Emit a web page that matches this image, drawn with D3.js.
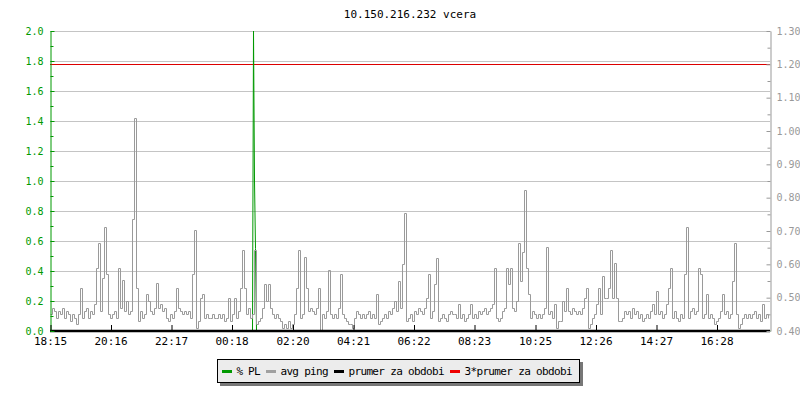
<!DOCTYPE html>
<html>
<head>
<meta charset="utf-8">
<script src="https://cdn.jsdelivr.net/npm/d3@7"></script>
<style>
  body { margin: 0; background: #fff; }
  svg { display: block; font-family: "DejaVu Sans Mono", monospace; }
</style>
</head>
<body>
<svg id="chart" width="800" height="400"></svg>
<script>
// avg ping, one value every 4 minutes starting 18:15 (right axis)
var avgPing = [
  0.45,0.47,0.46,0.44,0.46,0.45,0.47,0.44,0.46,0.45,0.43,0.45,0.44,0.42,0.45,0.53,0.44,0.46,0.47,0.44,0.46,0.45,0.48,0.59,0.665,0.46,0.56,0.713,0.57,0.45,
  0.44,0.45,0.46,0.44,0.59,0.47,0.553,0.46,0.49,0.45,0.46,0.736,1.04,0.53,0.43,0.46,0.44,0.45,0.51,0.49,0.46,0.45,0.47,0.545,0.47,0.48,0.46,0.47,0.44,0.43,
  0.45,0.44,0.46,0.53,0.47,0.46,0.45,0.46,0.45,0.46,0.44,0.57,0.703,0.41,0.43,0.50,0.51,0.44,0.45,0.44,0.44,0.45,0.44,0.44,0.45,0.44,0.45,0.43,0.44,0.50,
  0.43,0.45,0.50,0.44,0.46,0.53,0.643,0.53,0.45,0.47,0.44,0.45,0.643,0.42,0.43,0.44,0.47,0.54,0.49,0.54,0.47,0.45,0.44,0.45,0.44,0.43,0.41,0.42,0.41,0.43,
  0.41,0.42,0.45,0.53,0.643,0.44,0.45,0.623,0.53,0.46,0.47,0.46,0.45,0.47,0.53,0.40,0.45,0.44,0.46,0.583,0.45,0.44,0.45,0.44,0.47,0.57,0.45,0.44,0.43,0.42,
  0.42,0.41,0.44,0.46,0.45,0.44,0.45,0.44,0.45,0.46,0.44,0.45,0.44,0.51,0.42,0.43,0.44,0.45,0.44,0.46,0.45,0.47,0.49,0.46,0.55,0.47,0.60,0.753,0.43,0.44,
  0.45,0.43,0.46,0.45,0.47,0.46,0.45,0.47,0.50,0.57,0.44,0.46,0.54,0.62,0.43,0.44,0.45,0.44,0.43,0.45,0.46,0.45,0.45,0.44,0.48,0.44,0.45,0.43,0.44,0.45,
  0.48,0.44,0.45,0.44,0.46,0.45,0.46,0.47,0.45,0.46,0.47,0.48,0.59,0.44,0.43,0.44,0.46,0.47,0.59,0.54,0.59,0.47,0.46,0.49,0.663,0.55,0.638,0.823,0.59,0.51,
  0.44,0.46,0.45,0.44,0.45,0.44,0.45,0.47,0.653,0.45,0.46,0.44,0.48,0.41,0.43,0.43,0.49,0.46,0.53,0.46,0.45,0.47,0.46,0.45,0.46,0.45,0.47,0.50,0.53,0.41,
  0.42,0.44,0.45,0.48,0.53,0.45,0.565,0.50,0.50,0.53,0.643,0.50,0.603,0.50,0.43,0.43,0.44,0.46,0.45,0.46,0.44,0.47,0.45,0.46,0.44,0.45,0.43,0.44,0.45,0.44,
  0.46,0.48,0.45,0.52,0.45,0.46,0.44,0.45,0.48,0.53,0.59,0.44,0.46,0.44,0.43,0.45,0.44,0.57,0.711,0.44,0.46,0.47,0.45,0.46,0.59,0.57,0.44,0.45,0.51,0.44,
  0.45,0.44,0.42,0.43,0.44,0.46,0.51,0.45,0.46,0.44,0.45,0.55,0.663,0.45,0.41,0.42,0.44,0.45,0.44,0.45,0.44,0.45,0.46,0.44,0.45,0.43,0.48,0.44,0.45,0.44
];

// packet loss (left axis), minutes after 18:15
var plMinutes = [0, 404, 406, 408, 410, 412, 1440];
var plValues = [0, 0, 2.0, 1.0, 0.55, 0, 0];

var prumer = 0.40;        // prumer za obdobi
var prumer3 = 1.20;       // 3*prumer za obdobi

var timeTicks = ["18:15", "20:16", "22:17", "00:18", "02:20", "04:21", "06:22", "08:23", "10:25", "12:26", "14:27", "16:28"];
var leftTicks = [0.0, 0.2, 0.4, 0.6, 0.8, 1.0, 1.2, 1.4, 1.6, 1.8, 2.0];
var rightTicks = [0.40, 0.50, 0.60, 0.70, 0.80, 0.90, 1.00, 1.10, 1.20, 1.30];

var legendItems = [
  {name: "% PL", color: "#009900"},
  {name: "avg ping", color: "#a0a0a0"},
  {name: "prumer za obdobi", color: "#000000"},
  {name: "3*prumer za obdobi", color: "#ee0000"}
];

var svg = d3.select("#chart");
// note: "top" is taken by window.top, so plot edges get their own names
var plotLeft = 50, plotRight = 770, plotTop = 31, plotBottom = 331;

var t0 = new Date(2000, 0, 1, 18, 15);
var t1 = new Date(2000, 0, 2, 18, 15);

var x = d3.scaleTime().domain([t0, t1]).range([plotLeft, plotRight]);
var yLeft = d3.scaleLinear().domain([0, 2]).range([plotBottom, plotTop]);
var yRight = d3.scaleLinear().domain([0.40, 1.30]).range([plotBottom, plotTop]);

// turn "HH:MM" labels into dates on the right day
var tickDates = timeTicks.map(function (s) {
  var h = +s.slice(0, 2), m = +s.slice(3, 5);
  return new Date(2000, 0, h < 18 ? 2 : 1, h, m);
});

// title
svg.append("text")
  .attr("x", 410).attr("y", 18)
  .attr("text-anchor", "middle")
  .attr("font-size", 11)
  .attr("fill", "#000")
  .text("10.150.216.232 vcera");

// grid
svg.append("g").selectAll("line").data(leftTicks.slice(1)).enter().append("line")
  .attr("x1", plotLeft).attr("x2", plotRight)
  .attr("y1", function (d) { return Math.round(yLeft(d)) + 0.5; })
  .attr("y2", function (d) { return Math.round(yLeft(d)) + 0.5; })
  .attr("stroke", "#c4c4c4")
  .attr("stroke-width", 1);

// 3*prumer line
svg.append("line")
  .attr("x1", plotLeft).attr("x2", plotRight)
  .attr("y1", Math.round(yRight(prumer3)) + 0.5)
  .attr("y2", Math.round(yRight(prumer3)) + 0.5)
  .attr("stroke", "#dd0000");

// packet loss
var plLine = d3.line()
  .x(function (d) { return Math.round(x(d3.timeMinute.offset(t0, d[0]))) + 0.5; })
  .y(function (d) { return yLeft(d[1]); });
svg.append("path")
  .datum(plMinutes.map(function (m, i) { return [m, plValues[i]]; }))
  .attr("d", plLine)
  .attr("fill", "none")
  .attr("stroke", "#009900")
  .attr("stroke-width", 1);

// avg ping
var pingLine = d3.line()
  .curve(d3.curveStepAfter)
  .x(function (d, i) { return x(d3.timeMinute.offset(t0, i * 4)) + 0.5; })
  .y(function (d) { return Math.round(yRight(d)) + 0.5; });
svg.append("path")
  .datum(avgPing)
  .attr("d", pingLine)
  .attr("fill", "none")
  .attr("stroke", "#9a9a9a")
  .attr("stroke-width", 1);

// prumer line (sits on the bottom edge)
svg.append("line")
  .attr("x1", plotLeft).attr("x2", plotRight)
  .attr("y1", yRight(prumer)).attr("y2", yRight(prumer))
  .attr("stroke", "#000")
  .attr("stroke-width", 2.5);

// left axis, major and minor ticks
var gl = svg.append("g")
  .attr("transform", "translate(" + (plotLeft + 0.5) + ",0)")
  .call(d3.axisLeft(yLeft).tickValues(leftTicks).tickSize(-4).tickSizeOuter(0)
    .tickPadding(7).tickFormat(d3.format(".1f")));
var glMinor = svg.append("g")
  .attr("transform", "translate(" + (plotLeft + 0.5) + ",0)")
  .call(d3.axisLeft(yLeft).tickValues(d3.range(0.1, 2, 0.2)).tickSize(-3).tickSizeOuter(0).tickFormat(""));
glMinor.select(".domain").remove();
gl.selectAll("line, path").attr("stroke", "#009900");
glMinor.selectAll("line").attr("stroke", "#009900");
gl.selectAll("text").attr("font-size", 10).attr("fill", "#009900").attr("font-family", "DejaVu Sans Mono");

// right axis
var gr = svg.append("g")
  .attr("transform", "translate(" + (plotRight + 0.5) + ",0)")
  .call(d3.axisRight(yRight).tickValues(rightTicks).tickSize(-4).tickSizeOuter(0)
    .tickPadding(6).tickFormat(d3.format(".2f")));
var grMinor = svg.append("g")
  .attr("transform", "translate(" + (plotRight + 0.5) + ",0)")
  .call(d3.axisRight(yRight).tickValues(d3.range(0.45, 1.3, 0.1)).tickSize(-3).tickSizeOuter(0).tickFormat(""));
grMinor.select(".domain").remove();
gr.selectAll("line, path").attr("stroke", "#999");
grMinor.selectAll("line").attr("stroke", "#999");
gr.selectAll("text").attr("font-size", 10).attr("fill", "#999").attr("font-family", "DejaVu Sans Mono");

// time axis
var gx = svg.append("g")
  .attr("transform", "translate(0," + plotBottom + ")")
  .call(d3.axisBottom(x).tickValues(tickDates).tickSize(-6).tickSizeOuter(0)
    .tickPadding(6).tickFormat(d3.timeFormat("%H:%M")));
gx.select(".domain").remove();
gx.selectAll("line").attr("stroke", "#000").attr("transform", "translate(0.5,0)");
gx.selectAll("text").attr("font-size", 11).attr("fill", "#000").attr("font-family", "DejaVu Sans Mono");

// legend box with shadow
var lg = svg.append("g");
lg.append("rect").attr("x", 220).attr("y", 362).attr("width", 363).attr("height", 24).attr("fill", "#777");
lg.append("rect").attr("x", 217.5).attr("y", 359.5).attr("width", 362).attr("height", 23)
  .attr("fill", "#ececec").attr("stroke", "#000");

var lx = 222;
legendItems.forEach(function (d) {
  lg.append("rect")
    .attr("x", lx).attr("y", 370).attr("width", 10).attr("height", 3)
    .attr("fill", d.color);
  lg.append("text")
    .attr("x", lx + 14.5).attr("y", 375)
    .attr("font-size", 11)
    .attr("fill", "#000")
    .attr("textLength", d.name.length * 6)
    .text(d.name);
  lx += 14.5 + d.name.length * 6 + 5.5;
});
</script>
</body>
</html>
